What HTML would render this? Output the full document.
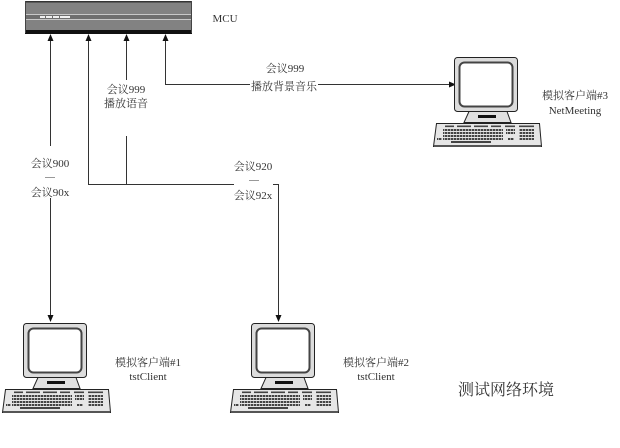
<!DOCTYPE html>
<html><head><meta charset="utf-8"><style>
html,body{margin:0;padding:0;background:#fff;}
svg{display:block;}
text{font-family:"Liberation Serif","Noto Serif CJK SC",serif;fill:#333;font-size:11px;}
</style></head><body>
<svg width="620" height="448" viewBox="0 0 620 448" xmlns="http://www.w3.org/2000/svg">
<defs>
<pattern id="keys" x="0" y="0" width="3" height="3" patternUnits="userSpaceOnUse">
<rect x="0" y="0" width="2.4" height="2" fill="#444"/>
</pattern>
<g id="pc">
<!-- monitor -->
<rect x="21.5" y="0.5" width="63" height="54" rx="3" fill="#dcdcdc" stroke="#222" stroke-width="1"/>
<rect x="26.5" y="5.5" width="53" height="44" rx="5" fill="#fff" stroke="#444" stroke-width="2"/>
<!-- stand -->
<polygon points="36,54.5 74,54.5 78,65.5 31,65.5" fill="#e0e0e0" stroke="#222" stroke-width="1"/>
<rect x="45" y="58" width="18" height="3" fill="#111"/>
<!-- keyboard -->
<polygon points="3.5,66.5 106.5,66.5 108.5,89.5 0.5,89.5" fill="#e6e6e6" stroke="#222" stroke-width="1"/>
<rect x="1" y="88" width="107" height="2" fill="#555"/>
<rect x="12" y="68.5" width="9" height="1.6" fill="#444"/>
<rect x="24" y="68.5" width="14" height="1.6" fill="#444"/>
<rect x="41" y="68.5" width="14" height="1.6" fill="#444"/>
<rect x="58" y="68.5" width="10" height="1.6" fill="#444"/>
<rect x="72" y="68.5" width="10" height="1.6" fill="#444"/>
<rect x="86" y="68.5" width="15" height="1.6" fill="#444"/>
<rect x="10" y="72" width="60" height="12" fill="url(#keys)"/>
<rect x="73" y="72" width="9" height="6" fill="url(#keys)"/>
<rect x="75" y="81" width="6" height="3" fill="url(#keys)"/>
<rect x="86" y="72" width="15" height="12" fill="url(#keys)"/>
<rect x="4" y="80" width="5" height="3" fill="url(#keys)"/>
<rect x="18" y="84" width="40" height="2" fill="#444"/>
</g>
</defs>

<!-- MCU -->
<rect x="25" y="1" width="167" height="32" fill="#828282"/>
<rect x="25" y="1" width="167" height="1.5" fill="#333"/>
<rect x="25" y="14" width="167" height="1" fill="#c8c8c8"/>
<rect x="25" y="15" width="167" height="4" fill="#6e6e6e"/>
<rect x="25" y="19" width="167" height="1" fill="#c8c8c8"/>
<rect x="25" y="30" width="167" height="4" fill="#111"/>
<rect x="25" y="1" width="1" height="32" fill="#444"/>
<rect x="191" y="1" width="1" height="32" fill="#444"/>
<rect x="40" y="16" width="30" height="2" fill="#f0f0f0"/>
<rect x="45" y="16" width="1" height="2" fill="#6e6e6e"/>
<rect x="52" y="16" width="1" height="2" fill="#6e6e6e"/>
<rect x="59" y="16" width="1" height="2" fill="#6e6e6e"/>
<text x="225" y="22" text-anchor="middle">MCU</text>

<g stroke="#333" stroke-width="1" fill="none">
<!-- x=50 -->
<line x1="50.5" y1="38" x2="50.5" y2="146"/>
<line x1="50.5" y1="198" x2="50.5" y2="316"/>
<!-- x=88 -->
<polyline points="88.5,38 88.5,184.5 234,184.5"/>
<!-- x=127 -->
<line x1="126.5" y1="38" x2="126.5" y2="80"/>
<line x1="126.5" y1="136" x2="126.5" y2="184"/>
<!-- x=165 -->
<polyline points="165.5,38 165.5,84.5 250,84.5"/>
<line x1="318" y1="84.5" x2="450" y2="84.5"/>
<!-- right branch -->
<polyline points="273,184.5 278.5,184.5 278.5,316"/>
</g>
<g fill="#111">
<polygon points="50.5,34 47.5,41 53.5,41"/>
<polygon points="88.5,34 85.5,41 91.5,41"/>
<polygon points="126.5,34 123.5,41 129.5,41"/>
<polygon points="165.5,34 162.5,41 168.5,41"/>
<polygon points="50.5,322 47.5,315 53.5,315"/>
<polygon points="278.5,322 275.5,315 281.5,315"/>
<polygon points="456,84.5 449,81.5 449,87.5"/>
</g>

<!-- labels -->
<text x="126" y="93" text-anchor="middle">会议999</text>
<text x="126" y="107" text-anchor="middle">播放语音</text>
<text x="285" y="72" text-anchor="middle">会议999</text>
<text x="284" y="90" text-anchor="middle">播放背景音乐</text>
<text x="50" y="167" text-anchor="middle">会议900</text>
<line x1="45" y1="177.5" x2="55" y2="177.5" stroke="#999" stroke-width="1"/>
<text x="50" y="196" text-anchor="middle">会议90x</text>
<text x="253" y="170" text-anchor="middle">会议920</text>
<line x1="249" y1="180.5" x2="259" y2="180.5" stroke="#999" stroke-width="1"/>
<text x="253" y="199" text-anchor="middle">会议92x</text>

<!-- computers -->
<use href="#pc" x="2" y="323"/>
<use href="#pc" x="230" y="323"/>
<use href="#pc" x="433" y="57"/>

<text x="148" y="366" text-anchor="middle">模拟客户端#1</text>
<text x="148" y="380" text-anchor="middle">tstClient</text>
<text x="376" y="366" text-anchor="middle">模拟客户端#2</text>
<text x="376" y="380" text-anchor="middle">tstClient</text>
<text x="575" y="99" text-anchor="middle">模拟客户端#3</text>
<text x="575" y="114" text-anchor="middle">NetMeeting</text>

<text x="506" y="395" text-anchor="middle" style="font-size:16px">测试网络环境</text>
</svg>
</body></html>
